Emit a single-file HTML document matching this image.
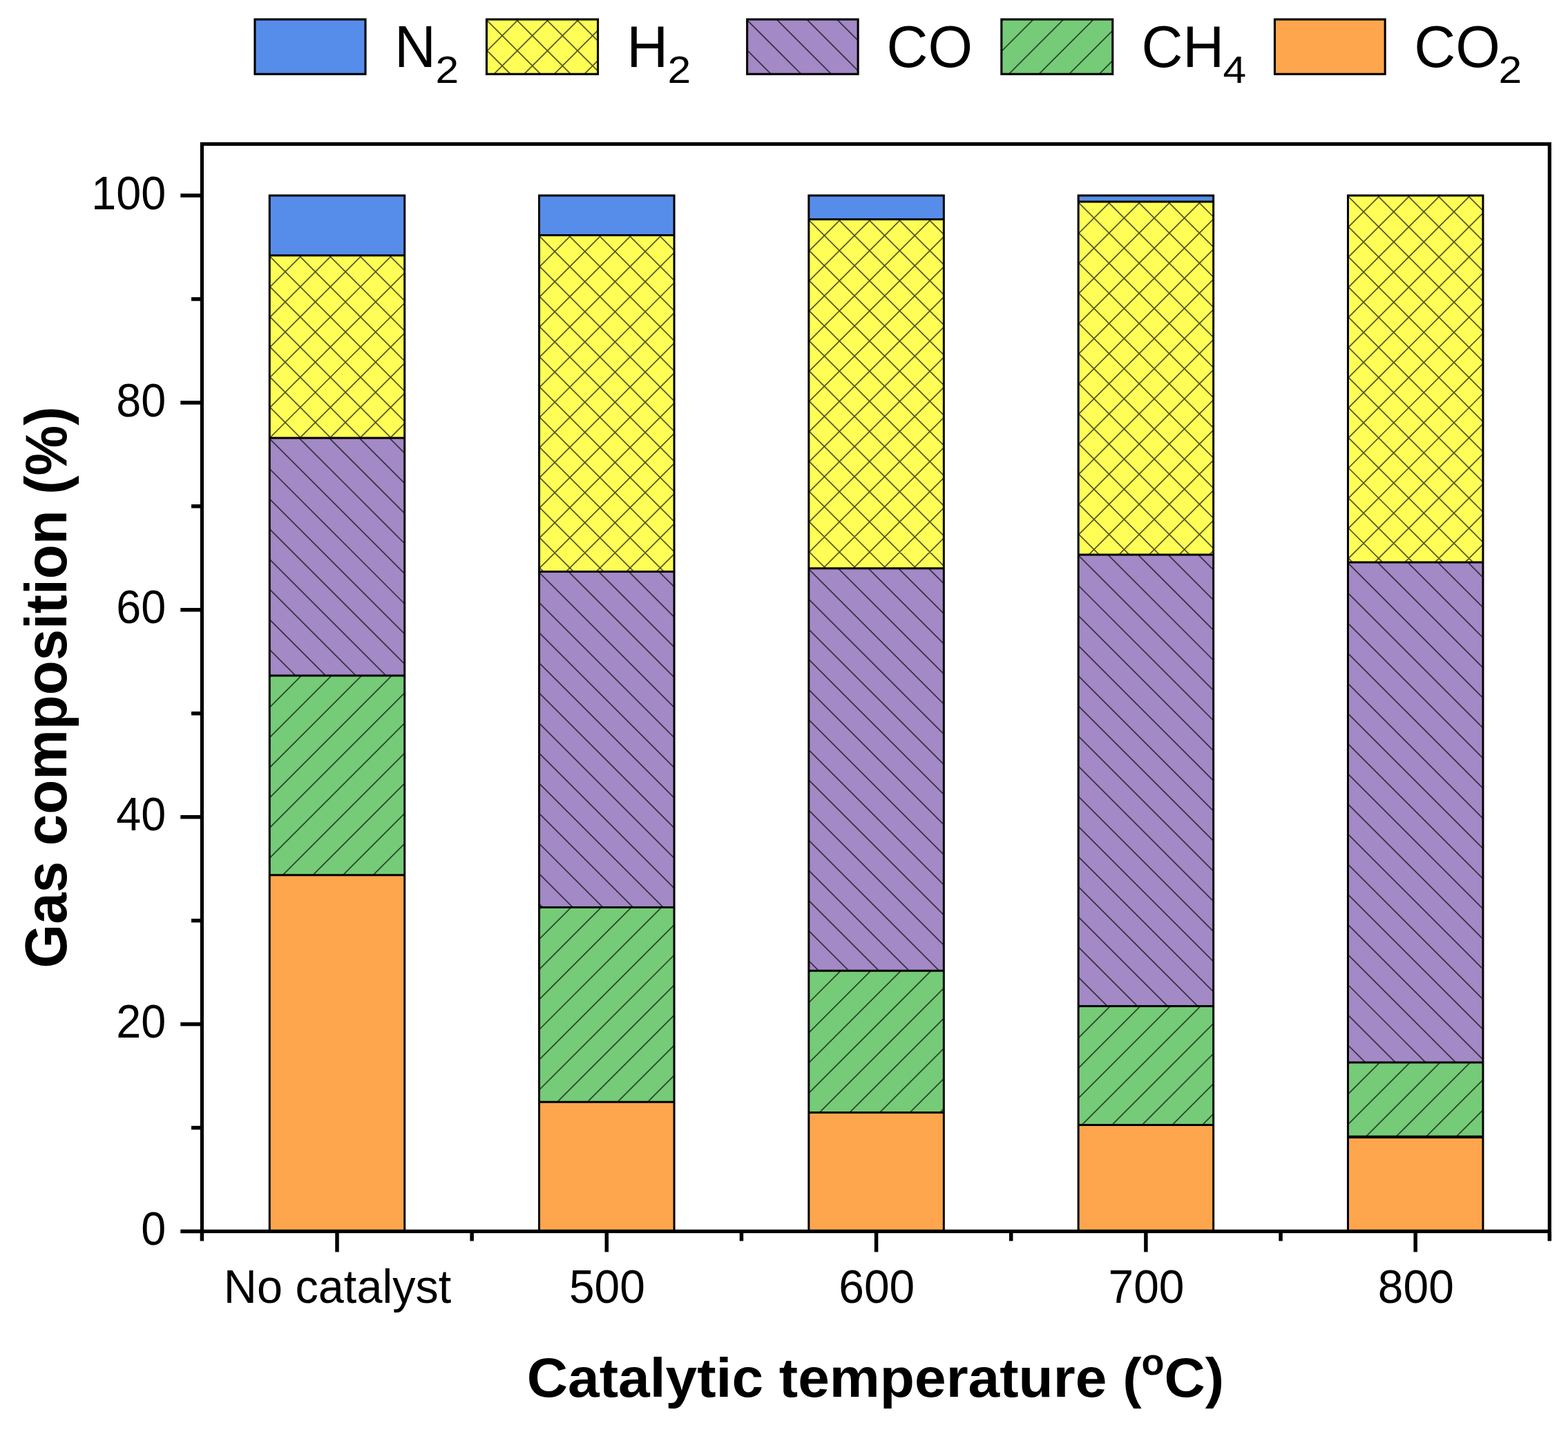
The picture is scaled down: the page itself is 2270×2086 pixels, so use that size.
<!DOCTYPE html>
<html><head><meta charset="utf-8"><title>Gas composition</title><style>html,body{margin:0;padding:0;background:#fff;overflow:hidden}svg{display:block}</style></head><body>
<svg width="2270" height="2086" viewBox="0 0 2270 2086">
<defs><clipPath id="c1"><rect x="390.25" y="369.80" width="195.50" height="264.20"/></clipPath><clipPath id="c2"><rect x="390.25" y="634.00" width="195.50" height="343.90"/></clipPath><clipPath id="c3"><rect x="390.25" y="977.90" width="195.50" height="288.90"/></clipPath><clipPath id="c4"><rect x="780.55" y="340.50" width="195.50" height="487.10"/></clipPath><clipPath id="c5"><rect x="780.55" y="827.60" width="195.50" height="485.90"/></clipPath><clipPath id="c6"><rect x="780.55" y="1313.50" width="195.50" height="281.70"/></clipPath><clipPath id="c7"><rect x="1170.85" y="317.40" width="195.50" height="505.40"/></clipPath><clipPath id="c8"><rect x="1170.85" y="822.80" width="195.50" height="582.50"/></clipPath><clipPath id="c9"><rect x="1170.85" y="1405.30" width="195.50" height="205.10"/></clipPath><clipPath id="c10"><rect x="1561.15" y="292.00" width="195.50" height="510.90"/></clipPath><clipPath id="c11"><rect x="1561.15" y="802.90" width="195.50" height="653.50"/></clipPath><clipPath id="c12"><rect x="1561.15" y="1456.40" width="195.50" height="172.00"/></clipPath><clipPath id="c13"><rect x="1951.45" y="283.00" width="195.50" height="530.90"/></clipPath><clipPath id="c14"><rect x="1951.45" y="813.90" width="195.50" height="724.00"/></clipPath><clipPath id="c15"><rect x="1951.45" y="1537.90" width="195.50" height="108.00"/></clipPath><clipPath id="c16"><rect x="704.45" y="28.05" width="161.10" height="79.20"/></clipPath><clipPath id="c17"><rect x="1081.65" y="28.05" width="160.50" height="79.20"/></clipPath><clipPath id="c18"><rect x="1449.85" y="28.05" width="160.90" height="79.20"/></clipPath></defs>
<rect width="2270" height="2086" fill="#fff"/>
<rect x="390.25" y="283.00" width="195.50" height="86.80" fill="#578DEA"/>
<rect x="390.25" y="369.80" width="195.50" height="264.20" fill="#FEFE56"/>
<path clip-path="url(#c1)" d="M37.29,366.80L307.49,637.00M80.91,366.80L351.11,637.00M124.53,366.80L394.73,637.00M168.15,366.80L438.35,637.00M211.77,366.80L481.97,637.00M255.39,366.80L525.59,637.00M299.01,366.80L569.21,637.00M342.63,366.80L612.83,637.00M386.25,366.80L656.45,637.00M429.87,366.80L700.07,637.00M473.49,366.80L743.69,637.00M517.11,366.80L787.31,637.00M560.73,366.80L830.93,637.00M604.35,366.80L874.55,637.00M647.97,366.80L918.17,637.00M308.61,366.80L38.41,637.00M352.23,366.80L82.03,637.00M395.85,366.80L125.65,637.00M439.47,366.80L169.27,637.00M483.09,366.80L212.89,637.00M526.71,366.80L256.51,637.00M570.33,366.80L300.13,637.00M613.95,366.80L343.75,637.00M657.57,366.80L387.37,637.00M701.19,366.80L430.99,637.00M744.81,366.80L474.61,637.00M788.43,366.80L518.23,637.00M832.05,366.80L561.85,637.00M875.67,366.80L605.47,637.00M919.29,366.80L649.09,637.00" stroke="#000" stroke-opacity="0.66" stroke-width="1.75" fill="none"/>
<rect x="390.25" y="634.00" width="195.50" height="343.90" fill="#A389C5"/>
<path clip-path="url(#c2)" d="M-6.33,631.00L343.57,980.90M37.29,631.00L387.19,980.90M80.91,631.00L430.81,980.90M124.53,631.00L474.43,980.90M168.15,631.00L518.05,980.90M211.77,631.00L561.67,980.90M255.39,631.00L605.29,980.90M299.01,631.00L648.91,980.90M342.63,631.00L692.53,980.90M386.25,631.00L736.15,980.90M429.87,631.00L779.77,980.90M473.49,631.00L823.39,980.90M517.11,631.00L867.01,980.90M560.73,631.00L910.63,980.90M604.35,631.00L954.25,980.90M647.97,631.00L997.87,980.90" stroke="#000" stroke-opacity="0.66" stroke-width="1.75" fill="none"/>
<rect x="390.25" y="977.90" width="195.50" height="288.90" fill="#75CB77"/>
<path clip-path="url(#c3)" d="M308.61,974.90L13.71,1269.80M352.23,974.90L57.33,1269.80M395.85,974.90L100.95,1269.80M439.47,974.90L144.57,1269.80M483.09,974.90L188.19,1269.80M526.71,974.90L231.81,1269.80M570.33,974.90L275.43,1269.80M613.95,974.90L319.05,1269.80M657.57,974.90L362.67,1269.80M701.19,974.90L406.29,1269.80M744.81,974.90L449.91,1269.80M788.43,974.90L493.53,1269.80M832.05,974.90L537.15,1269.80M875.67,974.90L580.77,1269.80M919.29,974.90L624.39,1269.80M962.91,974.90L668.01,1269.80" stroke="#000" stroke-opacity="0.66" stroke-width="1.75" fill="none"/>
<rect x="390.25" y="1266.80" width="195.50" height="515.70" fill="#FEA64D"/>
<rect x="390.25" y="283.00" width="195.50" height="1499.50" fill="none" stroke="#000" stroke-width="3.0"/>
<line x1="390.25" y1="369.80" x2="585.75" y2="369.80" stroke="#000" stroke-width="3.0"/>
<line x1="390.25" y1="634.00" x2="585.75" y2="634.00" stroke="#000" stroke-width="3.0"/>
<line x1="390.25" y1="977.90" x2="585.75" y2="977.90" stroke="#000" stroke-width="3.0"/>
<line x1="390.25" y1="1266.80" x2="585.75" y2="1266.80" stroke="#000" stroke-width="3.0"/>
<rect x="780.55" y="283.00" width="195.50" height="57.50" fill="#578DEA"/>
<rect x="780.55" y="340.50" width="195.50" height="487.10" fill="#FEFE56"/>
<path clip-path="url(#c4)" d="M209.49,337.50L702.59,830.60M253.11,337.50L746.21,830.60M296.73,337.50L789.83,830.60M340.35,337.50L833.45,830.60M383.97,337.50L877.07,830.60M427.59,337.50L920.69,830.60M471.21,337.50L964.31,830.60M514.83,337.50L1007.93,830.60M558.45,337.50L1051.55,830.60M602.07,337.50L1095.17,830.60M645.69,337.50L1138.79,830.60M689.31,337.50L1182.41,830.60M732.93,337.50L1226.03,830.60M776.55,337.50L1269.65,830.60M820.17,337.50L1313.27,830.60M863.79,337.50L1356.89,830.60M907.41,337.50L1400.51,830.60M951.03,337.50L1444.13,830.60M994.65,337.50L1487.75,830.60M1038.27,337.50L1531.37,830.60M698.91,337.50L205.81,830.60M742.53,337.50L249.43,830.60M786.15,337.50L293.05,830.60M829.77,337.50L336.67,830.60M873.39,337.50L380.29,830.60M917.01,337.50L423.91,830.60M960.63,337.50L467.53,830.60M1004.25,337.50L511.15,830.60M1047.87,337.50L554.77,830.60M1091.49,337.50L598.39,830.60M1135.11,337.50L642.01,830.60M1178.73,337.50L685.63,830.60M1222.35,337.50L729.25,830.60M1265.97,337.50L772.87,830.60M1309.59,337.50L816.49,830.60M1353.21,337.50L860.11,830.60M1396.83,337.50L903.73,830.60M1440.45,337.50L947.35,830.60M1484.07,337.50L990.97,830.60M1527.69,337.50L1034.59,830.60" stroke="#000" stroke-opacity="0.66" stroke-width="1.75" fill="none"/>
<rect x="780.55" y="827.60" width="195.50" height="485.90" fill="#A389C5"/>
<path clip-path="url(#c5)" d="M209.49,824.60L701.39,1316.50M253.11,824.60L745.01,1316.50M296.73,824.60L788.63,1316.50M340.35,824.60L832.25,1316.50M383.97,824.60L875.87,1316.50M427.59,824.60L919.49,1316.50M471.21,824.60L963.11,1316.50M514.83,824.60L1006.73,1316.50M558.45,824.60L1050.35,1316.50M602.07,824.60L1093.97,1316.50M645.69,824.60L1137.59,1316.50M689.31,824.60L1181.21,1316.50M732.93,824.60L1224.83,1316.50M776.55,824.60L1268.45,1316.50M820.17,824.60L1312.07,1316.50M863.79,824.60L1355.69,1316.50M907.41,824.60L1399.31,1316.50M951.03,824.60L1442.93,1316.50M994.65,824.60L1486.55,1316.50M1038.27,824.60L1530.17,1316.50" stroke="#000" stroke-opacity="0.66" stroke-width="1.75" fill="none"/>
<rect x="780.55" y="1313.50" width="195.50" height="281.70" fill="#75CB77"/>
<path clip-path="url(#c6)" d="M698.91,1310.50L411.21,1598.20M742.53,1310.50L454.83,1598.20M786.15,1310.50L498.45,1598.20M829.77,1310.50L542.07,1598.20M873.39,1310.50L585.69,1598.20M917.01,1310.50L629.31,1598.20M960.63,1310.50L672.93,1598.20M1004.25,1310.50L716.55,1598.20M1047.87,1310.50L760.17,1598.20M1091.49,1310.50L803.79,1598.20M1135.11,1310.50L847.41,1598.20M1178.73,1310.50L891.03,1598.20M1222.35,1310.50L934.65,1598.20M1265.97,1310.50L978.27,1598.20M1309.59,1310.50L1021.89,1598.20" stroke="#000" stroke-opacity="0.66" stroke-width="1.75" fill="none"/>
<rect x="780.55" y="1595.20" width="195.50" height="187.30" fill="#FEA64D"/>
<rect x="780.55" y="283.00" width="195.50" height="1499.50" fill="none" stroke="#000" stroke-width="3.0"/>
<line x1="780.55" y1="340.50" x2="976.05" y2="340.50" stroke="#000" stroke-width="3.0"/>
<line x1="780.55" y1="827.60" x2="976.05" y2="827.60" stroke="#000" stroke-width="3.0"/>
<line x1="780.55" y1="1313.50" x2="976.05" y2="1313.50" stroke="#000" stroke-width="3.0"/>
<line x1="780.55" y1="1595.20" x2="976.05" y2="1595.20" stroke="#000" stroke-width="3.0"/>
<rect x="1170.85" y="283.00" width="195.50" height="34.40" fill="#578DEA"/>
<rect x="1170.85" y="317.40" width="195.50" height="505.40" fill="#FEFE56"/>
<path clip-path="url(#c7)" d="M599.79,314.40L1111.19,825.80M643.41,314.40L1154.81,825.80M687.03,314.40L1198.43,825.80M730.65,314.40L1242.05,825.80M774.27,314.40L1285.67,825.80M817.89,314.40L1329.29,825.80M861.51,314.40L1372.91,825.80M905.13,314.40L1416.53,825.80M948.75,314.40L1460.15,825.80M992.37,314.40L1503.77,825.80M1035.99,314.40L1547.39,825.80M1079.61,314.40L1591.01,825.80M1123.23,314.40L1634.63,825.80M1166.85,314.40L1678.25,825.80M1210.47,314.40L1721.87,825.80M1254.09,314.40L1765.49,825.80M1297.71,314.40L1809.11,825.80M1341.33,314.40L1852.73,825.80M1384.95,314.40L1896.35,825.80M1428.57,314.40L1939.97,825.80M1089.21,314.40L577.81,825.80M1132.83,314.40L621.43,825.80M1176.45,314.40L665.05,825.80M1220.07,314.40L708.67,825.80M1263.69,314.40L752.29,825.80M1307.31,314.40L795.91,825.80M1350.93,314.40L839.53,825.80M1394.55,314.40L883.15,825.80M1438.17,314.40L926.77,825.80M1481.79,314.40L970.39,825.80M1525.41,314.40L1014.01,825.80M1569.03,314.40L1057.63,825.80M1612.65,314.40L1101.25,825.80M1656.27,314.40L1144.87,825.80M1699.89,314.40L1188.49,825.80M1743.51,314.40L1232.11,825.80M1787.13,314.40L1275.73,825.80M1830.75,314.40L1319.35,825.80M1874.37,314.40L1362.97,825.80M1917.99,314.40L1406.59,825.80M1961.61,314.40L1450.21,825.80" stroke="#000" stroke-opacity="0.66" stroke-width="1.75" fill="none"/>
<rect x="1170.85" y="822.80" width="195.50" height="582.50" fill="#A389C5"/>
<path clip-path="url(#c8)" d="M512.55,819.80L1101.05,1408.30M556.17,819.80L1144.67,1408.30M599.79,819.80L1188.29,1408.30M643.41,819.80L1231.91,1408.30M687.03,819.80L1275.53,1408.30M730.65,819.80L1319.15,1408.30M774.27,819.80L1362.77,1408.30M817.89,819.80L1406.39,1408.30M861.51,819.80L1450.01,1408.30M905.13,819.80L1493.63,1408.30M948.75,819.80L1537.25,1408.30M992.37,819.80L1580.87,1408.30M1035.99,819.80L1624.49,1408.30M1079.61,819.80L1668.11,1408.30M1123.23,819.80L1711.73,1408.30M1166.85,819.80L1755.35,1408.30M1210.47,819.80L1798.97,1408.30M1254.09,819.80L1842.59,1408.30M1297.71,819.80L1886.21,1408.30M1341.33,819.80L1929.83,1408.30M1384.95,819.80L1973.45,1408.30M1428.57,819.80L2017.07,1408.30" stroke="#000" stroke-opacity="0.66" stroke-width="1.75" fill="none"/>
<rect x="1170.85" y="1405.30" width="195.50" height="205.10" fill="#75CB77"/>
<path clip-path="url(#c9)" d="M1089.21,1402.30L878.11,1613.40M1132.83,1402.30L921.73,1613.40M1176.45,1402.30L965.35,1613.40M1220.07,1402.30L1008.97,1613.40M1263.69,1402.30L1052.59,1613.40M1307.31,1402.30L1096.21,1613.40M1350.93,1402.30L1139.83,1613.40M1394.55,1402.30L1183.45,1613.40M1438.17,1402.30L1227.07,1613.40M1481.79,1402.30L1270.69,1613.40M1525.41,1402.30L1314.31,1613.40M1569.03,1402.30L1357.93,1613.40M1612.65,1402.30L1401.55,1613.40M1656.27,1402.30L1445.17,1613.40" stroke="#000" stroke-opacity="0.66" stroke-width="1.75" fill="none"/>
<rect x="1170.85" y="1610.40" width="195.50" height="172.10" fill="#FEA64D"/>
<rect x="1170.85" y="283.00" width="195.50" height="1499.50" fill="none" stroke="#000" stroke-width="3.0"/>
<line x1="1170.85" y1="317.40" x2="1366.35" y2="317.40" stroke="#000" stroke-width="3.0"/>
<line x1="1170.85" y1="822.80" x2="1366.35" y2="822.80" stroke="#000" stroke-width="3.0"/>
<line x1="1170.85" y1="1405.30" x2="1366.35" y2="1405.30" stroke="#000" stroke-width="3.0"/>
<line x1="1170.85" y1="1610.40" x2="1366.35" y2="1610.40" stroke="#000" stroke-width="3.0"/>
<rect x="1561.15" y="283.00" width="195.50" height="9.00" fill="#578DEA"/>
<rect x="1561.15" y="292.00" width="195.50" height="510.90" fill="#FEFE56"/>
<path clip-path="url(#c10)" d="M990.09,289.00L1506.99,805.90M1033.71,289.00L1550.61,805.90M1077.33,289.00L1594.23,805.90M1120.95,289.00L1637.85,805.90M1164.57,289.00L1681.47,805.90M1208.19,289.00L1725.09,805.90M1251.81,289.00L1768.71,805.90M1295.43,289.00L1812.33,805.90M1339.05,289.00L1855.95,805.90M1382.67,289.00L1899.57,805.90M1426.29,289.00L1943.19,805.90M1469.91,289.00L1986.81,805.90M1513.53,289.00L2030.43,805.90M1557.15,289.00L2074.05,805.90M1600.77,289.00L2117.67,805.90M1644.39,289.00L2161.29,805.90M1688.01,289.00L2204.91,805.90M1731.63,289.00L2248.53,805.90M1775.25,289.00L2292.15,805.90M1818.87,289.00L2335.77,805.90M1479.51,289.00L962.61,805.90M1523.13,289.00L1006.23,805.90M1566.75,289.00L1049.85,805.90M1610.37,289.00L1093.47,805.90M1653.99,289.00L1137.09,805.90M1697.61,289.00L1180.71,805.90M1741.23,289.00L1224.33,805.90M1784.85,289.00L1267.95,805.90M1828.47,289.00L1311.57,805.90M1872.09,289.00L1355.19,805.90M1915.71,289.00L1398.81,805.90M1959.33,289.00L1442.43,805.90M2002.95,289.00L1486.05,805.90M2046.57,289.00L1529.67,805.90M2090.19,289.00L1573.29,805.90M2133.81,289.00L1616.91,805.90M2177.43,289.00L1660.53,805.90M2221.05,289.00L1704.15,805.90M2264.67,289.00L1747.77,805.90M2308.29,289.00L1791.39,805.90M2351.91,289.00L1835.01,805.90" stroke="#000" stroke-opacity="0.66" stroke-width="1.75" fill="none"/>
<rect x="1561.15" y="802.90" width="195.50" height="653.50" fill="#A389C5"/>
<path clip-path="url(#c11)" d="M859.23,799.90L1518.73,1459.40M902.85,799.90L1562.35,1459.40M946.47,799.90L1605.97,1459.40M990.09,799.90L1649.59,1459.40M1033.71,799.90L1693.21,1459.40M1077.33,799.90L1736.83,1459.40M1120.95,799.90L1780.45,1459.40M1164.57,799.90L1824.07,1459.40M1208.19,799.90L1867.69,1459.40M1251.81,799.90L1911.31,1459.40M1295.43,799.90L1954.93,1459.40M1339.05,799.90L1998.55,1459.40M1382.67,799.90L2042.17,1459.40M1426.29,799.90L2085.79,1459.40M1469.91,799.90L2129.41,1459.40M1513.53,799.90L2173.03,1459.40M1557.15,799.90L2216.65,1459.40M1600.77,799.90L2260.27,1459.40M1644.39,799.90L2303.89,1459.40M1688.01,799.90L2347.51,1459.40M1731.63,799.90L2391.13,1459.40M1775.25,799.90L2434.75,1459.40M1818.87,799.90L2478.37,1459.40" stroke="#000" stroke-opacity="0.66" stroke-width="1.75" fill="none"/>
<rect x="1561.15" y="1456.40" width="195.50" height="172.00" fill="#75CB77"/>
<path clip-path="url(#c12)" d="M1479.51,1453.40L1301.51,1631.40M1523.13,1453.40L1345.13,1631.40M1566.75,1453.40L1388.75,1631.40M1610.37,1453.40L1432.37,1631.40M1653.99,1453.40L1475.99,1631.40M1697.61,1453.40L1519.61,1631.40M1741.23,1453.40L1563.23,1631.40M1784.85,1453.40L1606.85,1631.40M1828.47,1453.40L1650.47,1631.40M1872.09,1453.40L1694.09,1631.40M1915.71,1453.40L1737.71,1631.40M1959.33,1453.40L1781.33,1631.40M2002.95,1453.40L1824.95,1631.40" stroke="#000" stroke-opacity="0.66" stroke-width="1.75" fill="none"/>
<rect x="1561.15" y="1628.40" width="195.50" height="154.10" fill="#FEA64D"/>
<rect x="1561.15" y="283.00" width="195.50" height="1499.50" fill="none" stroke="#000" stroke-width="3.0"/>
<line x1="1561.15" y1="292.00" x2="1756.65" y2="292.00" stroke="#000" stroke-width="3.0"/>
<line x1="1561.15" y1="802.90" x2="1756.65" y2="802.90" stroke="#000" stroke-width="3.0"/>
<line x1="1561.15" y1="1456.40" x2="1756.65" y2="1456.40" stroke="#000" stroke-width="3.0"/>
<line x1="1561.15" y1="1628.40" x2="1756.65" y2="1628.40" stroke="#000" stroke-width="3.0"/>
<rect x="1951.45" y="283.00" width="195.50" height="530.90" fill="#FEFE56"/>
<path clip-path="url(#c13)" d="M1336.77,280.00L1873.67,816.90M1380.39,280.00L1917.29,816.90M1424.01,280.00L1960.91,816.90M1467.63,280.00L2004.53,816.90M1511.25,280.00L2048.15,816.90M1554.87,280.00L2091.77,816.90M1598.49,280.00L2135.39,816.90M1642.11,280.00L2179.01,816.90M1685.73,280.00L2222.63,816.90M1729.35,280.00L2266.25,816.90M1772.97,280.00L2309.87,816.90M1816.59,280.00L2353.49,816.90M1860.21,280.00L2397.11,816.90M1903.83,280.00L2440.73,816.90M1947.45,280.00L2484.35,816.90M1991.07,280.00L2527.97,816.90M2034.69,280.00L2571.59,816.90M2078.31,280.00L2615.21,816.90M2121.93,280.00L2658.83,816.90M2165.55,280.00L2702.45,816.90M2209.17,280.00L2746.07,816.90M1869.81,280.00L1332.91,816.90M1913.43,280.00L1376.53,816.90M1957.05,280.00L1420.15,816.90M2000.67,280.00L1463.77,816.90M2044.29,280.00L1507.39,816.90M2087.91,280.00L1551.01,816.90M2131.53,280.00L1594.63,816.90M2175.15,280.00L1638.25,816.90M2218.77,280.00L1681.87,816.90M2262.39,280.00L1725.49,816.90M2306.01,280.00L1769.11,816.90M2349.63,280.00L1812.73,816.90M2393.25,280.00L1856.35,816.90M2436.87,280.00L1899.97,816.90M2480.49,280.00L1943.59,816.90M2524.11,280.00L1987.21,816.90M2567.73,280.00L2030.83,816.90M2611.35,280.00L2074.45,816.90M2654.97,280.00L2118.07,816.90M2698.59,280.00L2161.69,816.90M2742.21,280.00L2205.31,816.90" stroke="#000" stroke-opacity="0.66" stroke-width="1.75" fill="none"/>
<rect x="1951.45" y="813.90" width="195.50" height="724.00" fill="#A389C5"/>
<path clip-path="url(#c14)" d="M1162.29,810.90L1892.29,1540.90M1205.91,810.90L1935.91,1540.90M1249.53,810.90L1979.53,1540.90M1293.15,810.90L2023.15,1540.90M1336.77,810.90L2066.77,1540.90M1380.39,810.90L2110.39,1540.90M1424.01,810.90L2154.01,1540.90M1467.63,810.90L2197.63,1540.90M1511.25,810.90L2241.25,1540.90M1554.87,810.90L2284.87,1540.90M1598.49,810.90L2328.49,1540.90M1642.11,810.90L2372.11,1540.90M1685.73,810.90L2415.73,1540.90M1729.35,810.90L2459.35,1540.90M1772.97,810.90L2502.97,1540.90M1816.59,810.90L2546.59,1540.90M1860.21,810.90L2590.21,1540.90M1903.83,810.90L2633.83,1540.90M1947.45,810.90L2677.45,1540.90M1991.07,810.90L2721.07,1540.90M2034.69,810.90L2764.69,1540.90M2078.31,810.90L2808.31,1540.90M2121.93,810.90L2851.93,1540.90M2165.55,810.90L2895.55,1540.90M2209.17,810.90L2939.17,1540.90" stroke="#000" stroke-opacity="0.66" stroke-width="1.75" fill="none"/>
<rect x="1951.45" y="1537.90" width="195.50" height="108.00" fill="#75CB77"/>
<path clip-path="url(#c15)" d="M1869.81,1534.90L1755.81,1648.90M1913.43,1534.90L1799.43,1648.90M1957.05,1534.90L1843.05,1648.90M2000.67,1534.90L1886.67,1648.90M2044.29,1534.90L1930.29,1648.90M2087.91,1534.90L1973.91,1648.90M2131.53,1534.90L2017.53,1648.90M2175.15,1534.90L2061.15,1648.90M2218.77,1534.90L2104.77,1648.90M2262.39,1534.90L2148.39,1648.90M2306.01,1534.90L2192.01,1648.90" stroke="#000" stroke-opacity="0.66" stroke-width="1.75" fill="none"/>
<rect x="1951.45" y="1645.90" width="195.50" height="136.60" fill="#FEA64D"/>
<rect x="1951.45" y="283.00" width="195.50" height="1499.50" fill="none" stroke="#000" stroke-width="3.0"/>
<line x1="1951.45" y1="813.90" x2="2146.95" y2="813.90" stroke="#000" stroke-width="3.0"/>
<line x1="1951.45" y1="1537.90" x2="2146.95" y2="1537.90" stroke="#000" stroke-width="3.0"/>
<line x1="1951.45" y1="1645.90" x2="2146.95" y2="1645.90" stroke="#000" stroke-width="3.0"/>
<line x1="1951.45" y1="1645.9" x2="2146.95" y2="1645.9" stroke="#000" stroke-width="4.4"/>
<rect x="292.4" y="208.5" width="1950.90" height="1574.00" fill="none" stroke="#000" stroke-width="5.2"/>
<line x1="261.3" y1="1782.50" x2="292.4" y2="1782.50" stroke="#000" stroke-width="5.5"/>
<line x1="277.0" y1="1632.55" x2="292.4" y2="1632.55" stroke="#000" stroke-width="5.5"/>
<line x1="261.3" y1="1482.60" x2="292.4" y2="1482.60" stroke="#000" stroke-width="5.5"/>
<line x1="277.0" y1="1332.65" x2="292.4" y2="1332.65" stroke="#000" stroke-width="5.5"/>
<line x1="261.3" y1="1182.70" x2="292.4" y2="1182.70" stroke="#000" stroke-width="5.5"/>
<line x1="277.0" y1="1032.75" x2="292.4" y2="1032.75" stroke="#000" stroke-width="5.5"/>
<line x1="261.3" y1="882.80" x2="292.4" y2="882.80" stroke="#000" stroke-width="5.5"/>
<line x1="277.0" y1="732.85" x2="292.4" y2="732.85" stroke="#000" stroke-width="5.5"/>
<line x1="261.3" y1="582.90" x2="292.4" y2="582.90" stroke="#000" stroke-width="5.5"/>
<line x1="277.0" y1="432.95" x2="292.4" y2="432.95" stroke="#000" stroke-width="5.5"/>
<line x1="261.3" y1="283.00" x2="292.4" y2="283.00" stroke="#000" stroke-width="5.5"/>
<line x1="488.00" y1="1782.5" x2="488.00" y2="1812.4" stroke="#000" stroke-width="5.5"/>
<line x1="878.30" y1="1782.5" x2="878.30" y2="1812.4" stroke="#000" stroke-width="5.5"/>
<line x1="1268.60" y1="1782.5" x2="1268.60" y2="1812.4" stroke="#000" stroke-width="5.5"/>
<line x1="1658.90" y1="1782.5" x2="1658.90" y2="1812.4" stroke="#000" stroke-width="5.5"/>
<line x1="2049.20" y1="1782.5" x2="2049.20" y2="1812.4" stroke="#000" stroke-width="5.5"/>
<line x1="292.40" y1="1782.5" x2="292.40" y2="1796.5" stroke="#000" stroke-width="5.5"/>
<line x1="683.15" y1="1782.5" x2="683.15" y2="1796.5" stroke="#000" stroke-width="5.5"/>
<line x1="1073.45" y1="1782.5" x2="1073.45" y2="1796.5" stroke="#000" stroke-width="5.5"/>
<line x1="1463.75" y1="1782.5" x2="1463.75" y2="1796.5" stroke="#000" stroke-width="5.5"/>
<line x1="1854.05" y1="1782.5" x2="1854.05" y2="1796.5" stroke="#000" stroke-width="5.5"/>
<line x1="2243.30" y1="1782.5" x2="2243.30" y2="1796.5" stroke="#000" stroke-width="5.5"/>
<text transform="translate(240.30,1802.10) scale(0.9460,1)" font-family="'Liberation Sans', sans-serif" font-size="68.4" text-anchor="end">0</text>
<text transform="translate(240.30,1502.20) scale(0.9460,1)" font-family="'Liberation Sans', sans-serif" font-size="68.4" text-anchor="end">20</text>
<text transform="translate(240.30,1202.30) scale(0.9460,1)" font-family="'Liberation Sans', sans-serif" font-size="68.4" text-anchor="end">40</text>
<text transform="translate(240.30,902.40) scale(0.9460,1)" font-family="'Liberation Sans', sans-serif" font-size="68.4" text-anchor="end">60</text>
<text transform="translate(240.30,602.50) scale(0.9460,1)" font-family="'Liberation Sans', sans-serif" font-size="68.4" text-anchor="end">80</text>
<text transform="translate(240.30,302.60) scale(0.9460,1)" font-family="'Liberation Sans', sans-serif" font-size="68.4" text-anchor="end">100</text>
<text transform="translate(488.60,1886.00) scale(0.9685,1)" font-family="'Liberation Sans', sans-serif" font-size="68.8" text-anchor="middle">No catalyst</text>
<text transform="translate(878.90,1886.00) scale(0.9580,1)" font-family="'Liberation Sans', sans-serif" font-size="68.8" text-anchor="middle">500</text>
<text transform="translate(1269.20,1886.00) scale(0.9580,1)" font-family="'Liberation Sans', sans-serif" font-size="68.8" text-anchor="middle">600</text>
<text transform="translate(1659.50,1886.00) scale(0.9580,1)" font-family="'Liberation Sans', sans-serif" font-size="68.8" text-anchor="middle">700</text>
<text transform="translate(2049.80,1886.00) scale(0.9580,1)" font-family="'Liberation Sans', sans-serif" font-size="68.8" text-anchor="middle">800</text>
<text transform="translate(1267.50,2021.60) scale(1.0200,1)" font-family="'Liberation Sans', sans-serif" font-size="80.5" font-weight="bold" text-anchor="middle">Catalytic temperature (<tspan font-size="53" dy="-31.5">o</tspan><tspan dy="31.5">C)</tspan></text>
<text transform="translate(96.20,995.00) rotate(-90) scale(0.9640,1)" font-family="'Liberation Sans', sans-serif" font-size="84.8" font-weight="bold" text-anchor="middle">Gas composition (%)</text>
<rect x="368.95" y="28.05" width="160.10" height="79.20" fill="#578DEA"/>
<rect x="368.95" y="28.05" width="160.10" height="79.20" fill="none" stroke="#000" stroke-width="3.1"/>
<text transform="translate(571.00,97.00) scale(0.9710,1)" font-family="'Liberation Sans', sans-serif" font-size="85.5">N</text>
<text transform="translate(630.60,119.60) scale(1.0800,1)" font-family="'Liberation Sans', sans-serif" font-size="56">2</text>
<rect x="704.45" y="28.05" width="161.10" height="79.20" fill="#FEFE56"/>
<path clip-path="url(#c16)" d="M569.59,25.05L654.79,110.25M613.21,25.05L698.41,110.25M656.83,25.05L742.03,110.25M700.45,25.05L785.65,110.25M744.07,25.05L829.27,110.25M787.69,25.05L872.89,110.25M831.31,25.05L916.51,110.25M874.93,25.05L960.13,110.25M918.55,25.05L1003.75,110.25M622.81,25.05L537.61,110.25M666.43,25.05L581.23,110.25M710.05,25.05L624.85,110.25M753.67,25.05L668.47,110.25M797.29,25.05L712.09,110.25M840.91,25.05L755.71,110.25M884.53,25.05L799.33,110.25M928.15,25.05L842.95,110.25M971.77,25.05L886.57,110.25M1015.39,25.05L930.19,110.25" stroke="#000" stroke-opacity="0.66" stroke-width="1.75" fill="none"/>
<rect x="704.45" y="28.05" width="161.10" height="79.20" fill="none" stroke="#000" stroke-width="3.1"/>
<text transform="translate(907.30,97.00) scale(0.9710,1)" font-family="'Liberation Sans', sans-serif" font-size="85.5">H</text>
<text transform="translate(966.50,119.60) scale(1.0800,1)" font-family="'Liberation Sans', sans-serif" font-size="56">2</text>
<rect x="1081.65" y="28.05" width="160.50" height="79.20" fill="#A389C5"/>
<path clip-path="url(#c17)" d="M946.79,25.05L1031.99,110.25M990.41,25.05L1075.61,110.25M1034.03,25.05L1119.23,110.25M1077.65,25.05L1162.85,110.25M1121.27,25.05L1206.47,110.25M1164.89,25.05L1250.09,110.25M1208.51,25.05L1293.71,110.25M1252.13,25.05L1337.33,110.25M1295.75,25.05L1380.95,110.25" stroke="#000" stroke-opacity="0.66" stroke-width="1.75" fill="none"/>
<rect x="1081.65" y="28.05" width="160.50" height="79.20" fill="none" stroke="#000" stroke-width="3.1"/>
<text transform="translate(1283.60,97.00) scale(0.9710,1)" font-family="'Liberation Sans', sans-serif" font-size="85.5">CO</text>
<rect x="1449.85" y="28.05" width="160.90" height="79.20" fill="#75CB77"/>
<path clip-path="url(#c18)" d="M1368.21,25.05L1283.01,110.25M1411.83,25.05L1326.63,110.25M1455.45,25.05L1370.25,110.25M1499.07,25.05L1413.87,110.25M1542.69,25.05L1457.49,110.25M1586.31,25.05L1501.11,110.25M1629.93,25.05L1544.73,110.25M1673.55,25.05L1588.35,110.25M1717.17,25.05L1631.97,110.25M1760.79,25.05L1675.59,110.25" stroke="#000" stroke-opacity="0.66" stroke-width="1.75" fill="none"/>
<rect x="1449.85" y="28.05" width="160.90" height="79.20" fill="none" stroke="#000" stroke-width="3.1"/>
<text transform="translate(1652.40,97.00) scale(0.9710,1)" font-family="'Liberation Sans', sans-serif" font-size="85.5">CH</text>
<text transform="translate(1770.40,119.60) scale(1.0800,1)" font-family="'Liberation Sans', sans-serif" font-size="56">4</text>
<rect x="1845.45" y="28.05" width="159.70" height="79.20" fill="#FEA64D"/>
<rect x="1845.45" y="28.05" width="159.70" height="79.20" fill="none" stroke="#000" stroke-width="3.1"/>
<text transform="translate(2047.30,97.00) scale(0.9710,1)" font-family="'Liberation Sans', sans-serif" font-size="85.5">CO</text>
<text transform="translate(2169.60,119.60) scale(1.0800,1)" font-family="'Liberation Sans', sans-serif" font-size="56">2</text>
</svg>
</body></html>
